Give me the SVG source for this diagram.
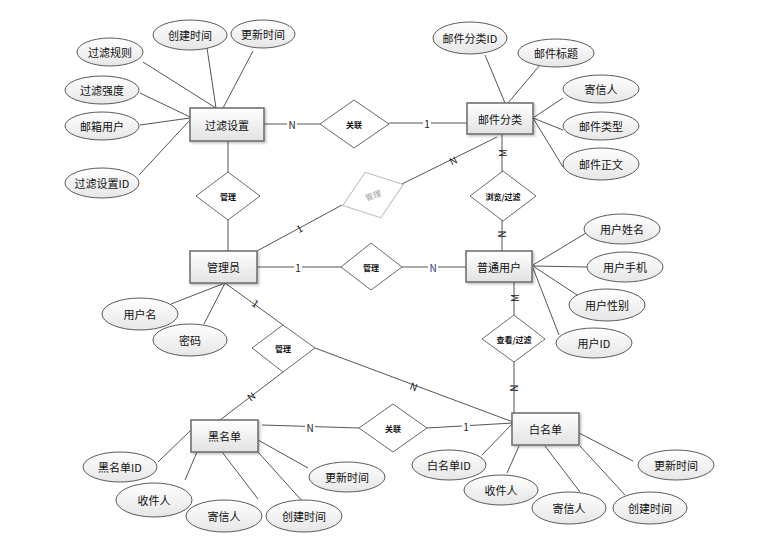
<svg xmlns="http://www.w3.org/2000/svg" width="775" height="557" viewBox="0 0 775 557">
<defs>
<linearGradient id="gEnt" x1="0" y1="0" x2="0" y2="1"><stop offset="0" stop-color="#ffffff"/><stop offset="1" stop-color="#e2e2e2"/></linearGradient>
<linearGradient id="gAtt" x1="0" y1="0" x2="0" y2="1"><stop offset="0" stop-color="#ffffff"/><stop offset="1" stop-color="#e6e6e6"/></linearGradient>
<filter id="sh" x="-20%" y="-20%" width="140%" height="150%"><feDropShadow dx="1.5" dy="1.5" stdDeviation="1" flood-color="#000" flood-opacity="0.25"/></filter>
</defs>
<style>
text{font-family:"Noto Sans CJK SC","Liberation Sans",sans-serif;text-anchor:middle;dominant-baseline:central;fill:#111}
.ent rect{fill:url(#gEnt);stroke:#6a6a6a;stroke-width:1.5;filter:url(#sh)}
.ent text{font-size:11px}
.att ellipse{fill:url(#gAtt);stroke:#5a5a5a;stroke-width:1}
.att text{font-size:11px}
.rel polygon{fill:#fff;stroke:#6a6a6a;stroke-width:1}
.rel text{font-size:8px;font-weight:bold}
.rel.ghost polygon{stroke:#bbbbbb}
.rel.ghost text{fill:#999;font-weight:normal}
#connectors line{stroke:#555;stroke-width:1}
.lbl{font-size:10px;fill:#222}
.lbl rect{fill:#fff}
</style>
<rect width="775" height="557" fill="#fff"/>
<g id="connectors">
<line x1="143" y1="62" x2="216" y2="108"/>
<line x1="207" y1="48" x2="216" y2="108"/>
<line x1="253" y1="51" x2="223" y2="108"/>
<line x1="140" y1="93" x2="190" y2="117"/>
<line x1="140" y1="125" x2="190" y2="118"/>
<line x1="139" y1="175" x2="190" y2="120"/>
<line x1="228" y1="141" x2="228" y2="172"/>
<line x1="228" y1="220" x2="228" y2="251"/>
<line x1="264" y1="124" x2="320" y2="124"/>
<line x1="389" y1="123" x2="467" y2="123"/>
<line x1="485" y1="55" x2="505" y2="103"/>
<line x1="540" y1="65" x2="508" y2="103"/>
<line x1="563" y1="98" x2="533" y2="118"/>
<line x1="563" y1="130" x2="533" y2="118"/>
<line x1="563" y1="167" x2="533" y2="118"/>
<line x1="502" y1="134" x2="502" y2="172"/>
<line x1="502" y1="220" x2="502" y2="251"/>
<line x1="402" y1="184" x2="497" y2="137"/>
<line x1="257" y1="251" x2="342" y2="205"/>
<line x1="257" y1="267" x2="341" y2="267"/>
<line x1="402" y1="267" x2="466" y2="267"/>
<line x1="533" y1="265" x2="586" y2="233"/>
<line x1="533" y1="266" x2="587" y2="267"/>
<line x1="533" y1="266" x2="577" y2="295"/>
<line x1="533" y1="268" x2="559" y2="335"/>
<line x1="514" y1="282" x2="514" y2="315"/>
<line x1="514" y1="362" x2="514" y2="413"/>
<line x1="225" y1="283" x2="171" y2="304"/>
<line x1="225" y1="283" x2="204" y2="324"/>
<line x1="225" y1="283" x2="283" y2="325"/>
<line x1="283" y1="372" x2="220" y2="420"/>
<line x1="315" y1="348" x2="513" y2="422"/>
<line x1="158" y1="462" x2="191" y2="430"/>
<line x1="185" y1="480" x2="197" y2="452"/>
<line x1="258" y1="499" x2="222" y2="452"/>
<line x1="303" y1="502" x2="258" y2="452"/>
<line x1="308" y1="468" x2="258" y2="440"/>
<line x1="262" y1="425" x2="359" y2="428"/>
<line x1="427" y1="428" x2="513" y2="423"/>
<line x1="482" y1="455" x2="513" y2="423"/>
<line x1="507" y1="473" x2="519" y2="446"/>
<line x1="580" y1="492" x2="545" y2="446"/>
<line x1="625" y1="495" x2="580" y2="446"/>
<line x1="633" y1="461" x2="579" y2="433"/>
</g>
<g id="labels" class="lbl">
<rect x="287" y="118" width="10" height="12"/><text x="292" y="124" class="lbl">N</text>
<rect x="423" y="117" width="8" height="12"/><text x="427" y="123" class="lbl">1</text>
<text x="502" y="153" class="lbl" transform="rotate(-90 502 153)">M</text>
<text x="502" y="234" class="lbl" transform="rotate(90 502 234)">N</text>
<text x="453" y="160" class="lbl" transform="rotate(-27 453 160)">N</text>
<text x="299" y="228" class="lbl" transform="rotate(-28 299 228)">1</text>
<rect x="294" y="261" width="8" height="12"/><text x="298" y="267" class="lbl">1</text>
<rect x="428" y="261" width="10" height="12"/><text x="433" y="267" class="lbl" style="fill:#1a3a8a">N</text>
<text x="514" y="298" class="lbl" transform="rotate(-90 514 298)">M</text>
<text x="514" y="388" class="lbl" transform="rotate(90 514 388)">N</text>
<text x="256" y="303" class="lbl" transform="rotate(36 256 303)">1</text>
<text x="251" y="396" class="lbl" transform="rotate(-37 251 396)">N</text>
<text x="414" y="386" class="lbl" transform="rotate(21 414 386)">N</text>
<rect x="305" y="421" width="10" height="12"/><text x="310" y="427" class="lbl">N</text>
<rect x="462" y="420" width="8" height="12"/><text x="466" y="426" class="lbl">1</text>
</g>
<g id="e-filter" class="ent"><rect x="190" y="108" width="74" height="33"/><text x="227" y="124.5">过滤设置</text></g>
<g id="e-mailcat" class="ent"><rect x="467" y="103" width="66" height="31"/><text x="500" y="118.5">邮件分类</text></g>
<g id="e-admin" class="ent"><rect x="190" y="251" width="67" height="32"/><text x="223.5" y="267">管理员</text></g>
<g id="e-user" class="ent"><rect x="466" y="251" width="66" height="31"/><text x="499" y="266.5">普通用户</text></g>
<g id="e-black" class="ent"><rect x="191" y="420" width="67" height="32"/><text x="224.5" y="436">黑名单</text></g>
<g id="e-white" class="ent"><rect x="512" y="413" width="67" height="32"/><text x="545.5" y="429">白名单</text></g>
<g id="r-link1" class="rel"><polygon points="354,100 389,124 354,148 320,124"/><text x="354" y="124">关联</text></g>
<g id="r-manage1" class="rel"><polygon points="228,172 260,196 228,220 196,196"/><text x="228" y="196">管理</text></g>
<g id="r-manage-ghost" class="rel ghost"><polygon points="-32,0 0,-24 32,0 0,24" transform="translate(373 195) rotate(-19)"/><text x="373" y="195" transform="rotate(-19 373 195)">管理</text></g>
<g id="r-browse" class="rel"><polygon points="503,171 536,196 503,221 470,196"/><text x="503" y="196">浏览/过滤</text></g>
<g id="r-manage2" class="rel"><polygon points="371,243 402,267 371,290 341,267"/><text x="371" y="267">管理</text></g>
<g id="r-view" class="rel"><polygon points="514,315 545,339 514,362 482,339"/><text x="514" y="339">查看/过滤</text></g>
<g id="r-manage3" class="rel"><polygon points="283,325 315,348 283,372 252,348"/><text x="283" y="348">管理</text></g>
<g id="r-link2" class="rel"><polygon points="393,404 427,428 393,452 359,428"/><text x="393" y="428">关联</text></g>
<g id="a-rule" class="att"><ellipse cx="110" cy="52" rx="33" ry="14"/><text x="110" y="52">过滤规则</text></g>
<g id="a-ctime1" class="att"><ellipse cx="190" cy="35" rx="37" ry="15"/><text x="190" y="35">创建时间</text></g>
<g id="a-utime1" class="att"><ellipse cx="263" cy="34" rx="32" ry="14"/><text x="263" y="34">更新时间</text></g>
<g id="a-level" class="att"><ellipse cx="102" cy="90" rx="37" ry="14"/><text x="102" y="90">过滤强度</text></g>
<g id="a-mailuser" class="att"><ellipse cx="102" cy="126" rx="37" ry="14"/><text x="102" y="126">邮箱用户</text></g>
<g id="a-filterid" class="att"><ellipse cx="102" cy="183" rx="37" ry="15"/><text x="102" y="183">过滤设置ID</text></g>
<g id="a-catid" class="att"><ellipse cx="470" cy="38" rx="37" ry="16"/><text x="470" y="38">邮件分类ID</text></g>
<g id="a-title" class="att"><ellipse cx="556" cy="53" rx="38" ry="14"/><text x="556" y="53">邮件标题</text></g>
<g id="a-sender1" class="att"><ellipse cx="601" cy="89" rx="38" ry="14"/><text x="601" y="89">寄信人</text></g>
<g id="a-type" class="att"><ellipse cx="601" cy="126" rx="38" ry="14"/><text x="601" y="126">邮件类型</text></g>
<g id="a-body" class="att"><ellipse cx="601" cy="164" rx="38" ry="16"/><text x="601" y="164">邮件正文</text></g>
<g id="a-uname" class="att"><ellipse cx="622" cy="229" rx="38" ry="15"/><text x="622" y="229">用户姓名</text></g>
<g id="a-phone" class="att"><ellipse cx="625" cy="267" rx="38" ry="15"/><text x="625" y="267">用户手机</text></g>
<g id="a-sex" class="att"><ellipse cx="607" cy="305" rx="38" ry="16"/><text x="607" y="305">用户性别</text></g>
<g id="a-uid" class="att"><ellipse cx="594" cy="343" rx="38" ry="15"/><text x="594" y="343">用户ID</text></g>
<g id="a-login" class="att"><ellipse cx="140" cy="314" rx="38" ry="16"/><text x="140" y="314">用户名</text></g>
<g id="a-pwd" class="att"><ellipse cx="190" cy="340" rx="37" ry="16"/><text x="190" y="340">密码</text></g>
<g id="a-bid" class="att"><ellipse cx="120" cy="467" rx="37" ry="15"/><text x="120" y="467">黑名单ID</text></g>
<g id="a-brecv" class="att"><ellipse cx="154" cy="500" rx="38" ry="17"/><text x="154" y="500">收件人</text></g>
<g id="a-bsend" class="att"><ellipse cx="224" cy="516" rx="38" ry="16"/><text x="224" y="516">寄信人</text></g>
<g id="a-bctime" class="att"><ellipse cx="304" cy="516" rx="38" ry="16"/><text x="304" y="516">创建时间</text></g>
<g id="a-butime" class="att"><ellipse cx="347" cy="477" rx="38" ry="15"/><text x="347" y="477">更新时间</text></g>
<g id="a-wid" class="att"><ellipse cx="449" cy="465" rx="37" ry="15"/><text x="449" y="465">白名单ID</text></g>
<g id="a-wrecv" class="att"><ellipse cx="501" cy="490" rx="37" ry="15"/><text x="501" y="490">收件人</text></g>
<g id="a-wsend" class="att"><ellipse cx="569" cy="508" rx="37" ry="16"/><text x="569" y="508">寄信人</text></g>
<g id="a-wctime" class="att"><ellipse cx="650" cy="508" rx="37" ry="16"/><text x="650" y="508">创建时间</text></g>
<g id="a-wutime" class="att"><ellipse cx="676" cy="465" rx="38" ry="15"/><text x="676" y="465">更新时间</text></g>
</svg>
